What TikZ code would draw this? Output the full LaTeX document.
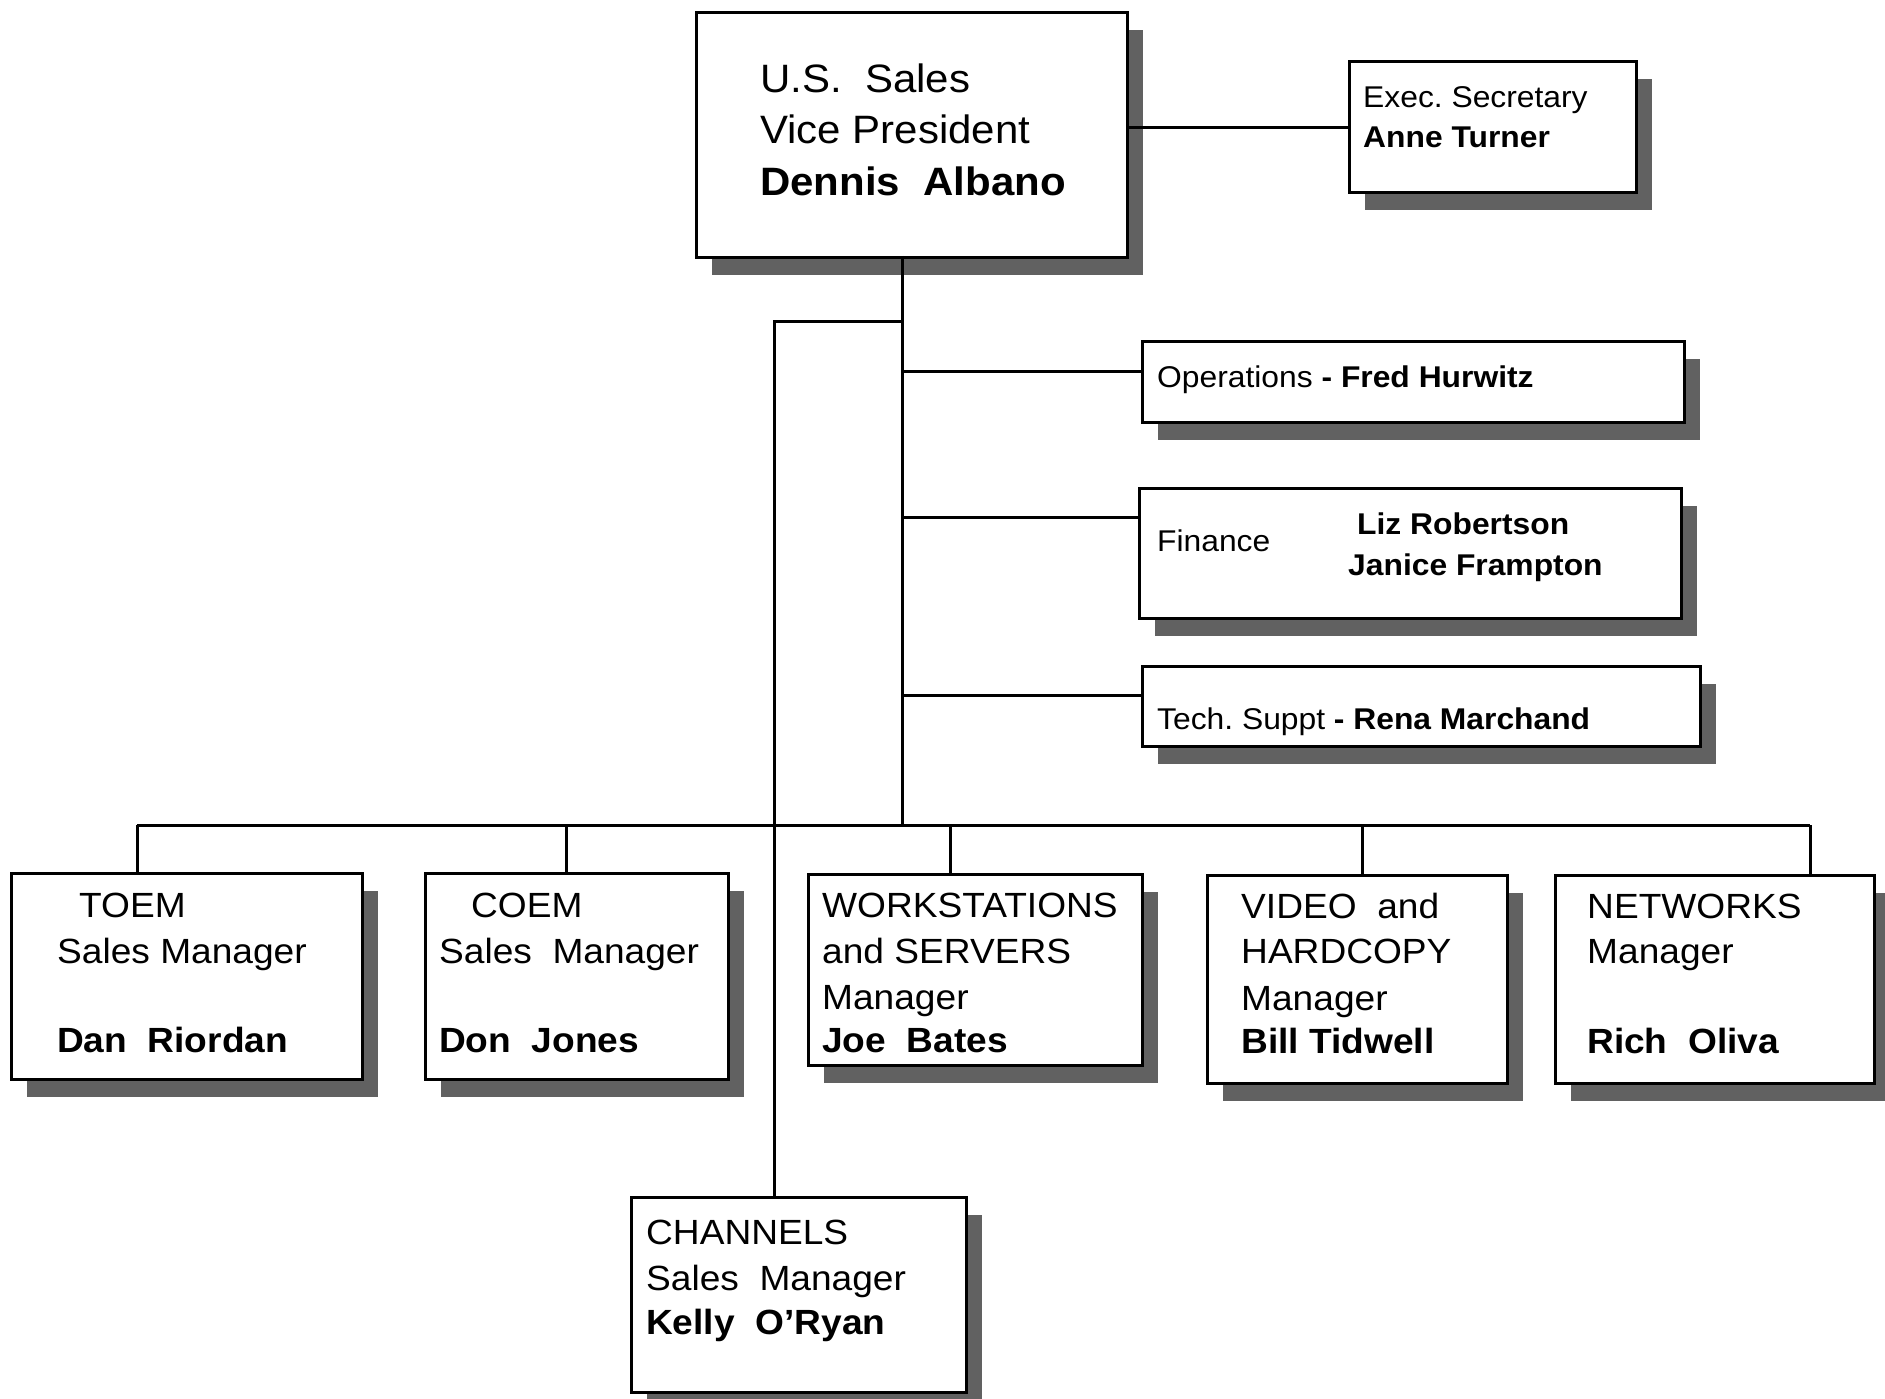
\documentclass[tikz,border=0pt]{standalone}
\usepackage{fontspec}
\setmainfont{Liberation Sans}[FakeStretch=1.06]
\frenchspacing
\usetikzlibrary{shadows}
\tikzset{
  box/.style={draw, line width=3.3pt, fill=white, anchor=north west, inner sep=0pt,
    drop shadow={shadow xshift=15pt, shadow yshift=-17pt, fill=black!62, opacity=1}},
  conn/.style={line width=3pt},
  big/.style={anchor=base west, inner sep=0pt, font=\fontsize{39.6}{45}\selectfont},
  mid/.style={anchor=base west, inner sep=0pt, font=\fontsize{35}{40}\selectfont},
  sml/.style={anchor=base west, inner sep=0pt, font=\fontsize{30}{34}\selectfont},
}
\begin{document}
\begin{tikzpicture}[x=1pt,y=-1pt]
\useasboundingbox[fill=white] (0,0) rectangle (1885,1399);
% boxes
\node[box, minimum width=431pt, minimum height=245pt] (main) at (695,11) {};
\node[box, minimum width=287pt, minimum height=131pt] (exec) at (1348,60) {};
\node[box, minimum width=542pt, minimum height=81pt] (ops) at (1141,340) {};
\node[box, minimum width=542pt, minimum height=130pt] (fin) at (1138,487) {};
\node[box, minimum width=558pt, minimum height=80pt] (tech) at (1141,665) {};
\node[box, minimum width=351pt, minimum height=206pt] (toem) at (10,872) {};
\node[box, minimum width=303pt, minimum height=206pt] (coem) at (424,872) {};
\node[box, minimum width=334pt, minimum height=191pt] (ws) at (807,873) {};
\node[box, minimum width=300pt, minimum height=208pt] (video) at (1206,874) {};
\node[box, minimum width=319pt, minimum height=208pt] (net) at (1554,874) {};
\node[box, minimum width=335pt, minimum height=195pt] (chan) at (630,1196) {};
% connector points
\coordinate (ttop) at (902,256);
\coordinate (tbot) at (902,825);
\coordinate (chturn) at (902,321);
\coordinate (chcorner) at (774,321);
\coordinate (busL) at (137,825);
\coordinate (busR) at (1810,825);
\coordinate (opsin) at (1141,371);
\coordinate (finin) at (1138,517);
\coordinate (techin) at (1141,695);
% connectors
\draw[conn] (exec.west) -- (exec.west -| main.east);
\draw[conn] (ttop) -- (tbot);
\draw[conn] (chturn) -- (chcorner) -- (chcorner |- chan.north);
\draw[conn] (opsin) -- (opsin -| ttop);
\draw[conn] (finin) -- (finin -| ttop);
\draw[conn] (techin) -- (techin -| ttop);
\draw[conn] (busL) -- (busR);
\draw[conn] (busL) -- (busL |- toem.north);
\draw[conn] (566,825) -- (566,872);
\draw[conn] (950,825) -- (950,873);
\draw[conn] (1362,825) -- (1362,874);
\draw[conn] (busR) -- (busR |- net.north);
% texts
\node[big] (m1) at (760,93) {U.S.\ \ Sales};
\node[big] (m2) at (760,144) {Vice President};
\node[big] (m3) at (760,196) {\bfseries Dennis\ \ Albano};
\node[sml] (e1) at (1363,108) {Exec. Secretary};
\node[sml] (e2) at (1363,148) {\bfseries Anne Turner};
\node[sml] (o1) at (1157,387) {Operations \textbf{- Fred Hurwitz}};
\node[sml] (f1) at (1157,551) {Finance};
\node[sml] (f2) at (1357,534) {\bfseries Liz Robertson};
\node[sml] (f3) at (1348,575) {\bfseries Janice Frampton};
\node[sml] (t1) at (1157,729) {Tech. Suppt \textbf{- Rena Marchand}};
\node[mid] (a1) at (79,917) {TOEM};
\node[mid] (a2) at (57,963) {Sales Manager};
\node[mid] (a3) at (57,1052) {\bfseries Dan\ \ Riordan};
\node[mid] (b1) at (471,917) {COEM};
\node[mid] (b2) at (439,963) {Sales\ \ Manager};
\node[mid] (b3) at (439,1052) {\bfseries Don\ \ Jones};
\node[mid] (c1) at (822,917) {WORKSTATIONS};
\node[mid] (c2) at (822,963) {and SERVERS};
\node[mid] (c3) at (822,1009) {Manager};
\node[mid] (c4) at (822,1052) {\bfseries Joe\ \ Bates};
\node[mid] (d1) at (1241,918) {VIDEO\ \ and};
\node[mid] (d2) at (1241,963) {HARDCOPY};
\node[mid] (d3) at (1241,1010) {Manager};
\node[mid] (d4) at (1241,1053) {\bfseries Bill Tidwell};
\node[mid] (n1) at (1587,918) {NETWORKS};
\node[mid] (n2) at (1587,963) {Manager};
\node[mid] (n3) at (1587,1053) {\bfseries Rich\ \ Oliva};
\node[mid] (h1) at (646,1244) {CHANNELS};
\node[mid] (h2) at (646,1290) {Sales\ \ Manager};
\node[mid] (h3) at (646,1334) {\bfseries Kelly\ \ O'Ryan};
\end{tikzpicture}
\end{document}
